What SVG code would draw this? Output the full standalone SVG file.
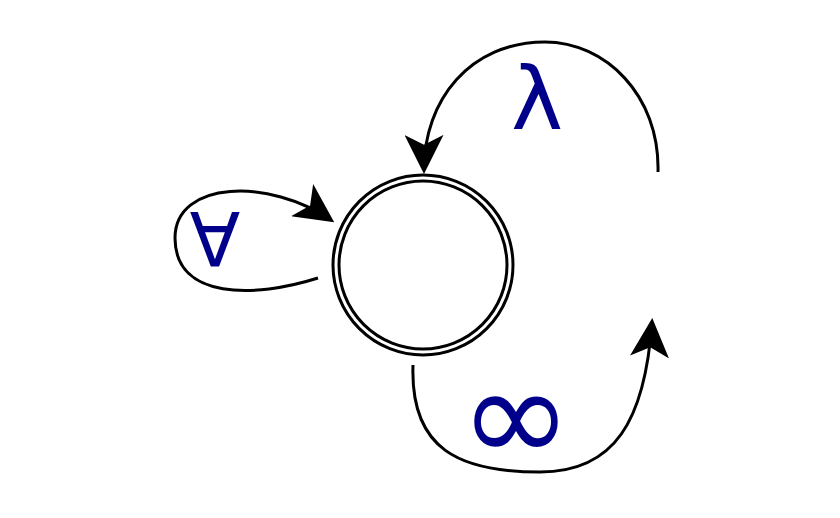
<svg xmlns="http://www.w3.org/2000/svg" width="840" height="518" viewBox="0 0 840 518">
<style>
.e{fill:none;stroke:#000;stroke-width:3}
.l{fill:#00008b;font-family:"DejaVu Sans",sans-serif;text-anchor:middle}
</style>
<defs><marker id="b" viewBox="0 0 10 10" refX="9" refY="5" markerWidth="13" markerHeight="13" orient="auto"><path d="M0,0 L10,5 L0,10 L2.5,5 Z"/></marker></defs>
<rect width="840" height="518" fill="#fff"/>
<g id="state"><circle cx="423" cy="265" r="90" class="e"/><circle cx="423" cy="265" r="84" class="e"/></g>
<g id="connectors">
<path class="e" marker-end="url(#b)" d="M318 278 C255 298 175 300 175 238 C175 180 270 178 331 220"/>
<path class="e" marker-end="url(#b)" d="M658 172 C660 95 605 42 545 42 C470 42 424 100 424 170"/>
<path class="e" marker-end="url(#b)" d="M413 365 C410 450 460 472 540 472 C615 472 645 420 652 322"/>
</g>
<g id="labels">
<text class="l" x="215" y="262" font-size="74" transform="rotate(180 215 237)">A</text>
<text class="l" x="537" y="129" font-size="88">λ</text>
<text class="l" x="516" y="462" font-size="135">∞</text>
</g>
</svg>
